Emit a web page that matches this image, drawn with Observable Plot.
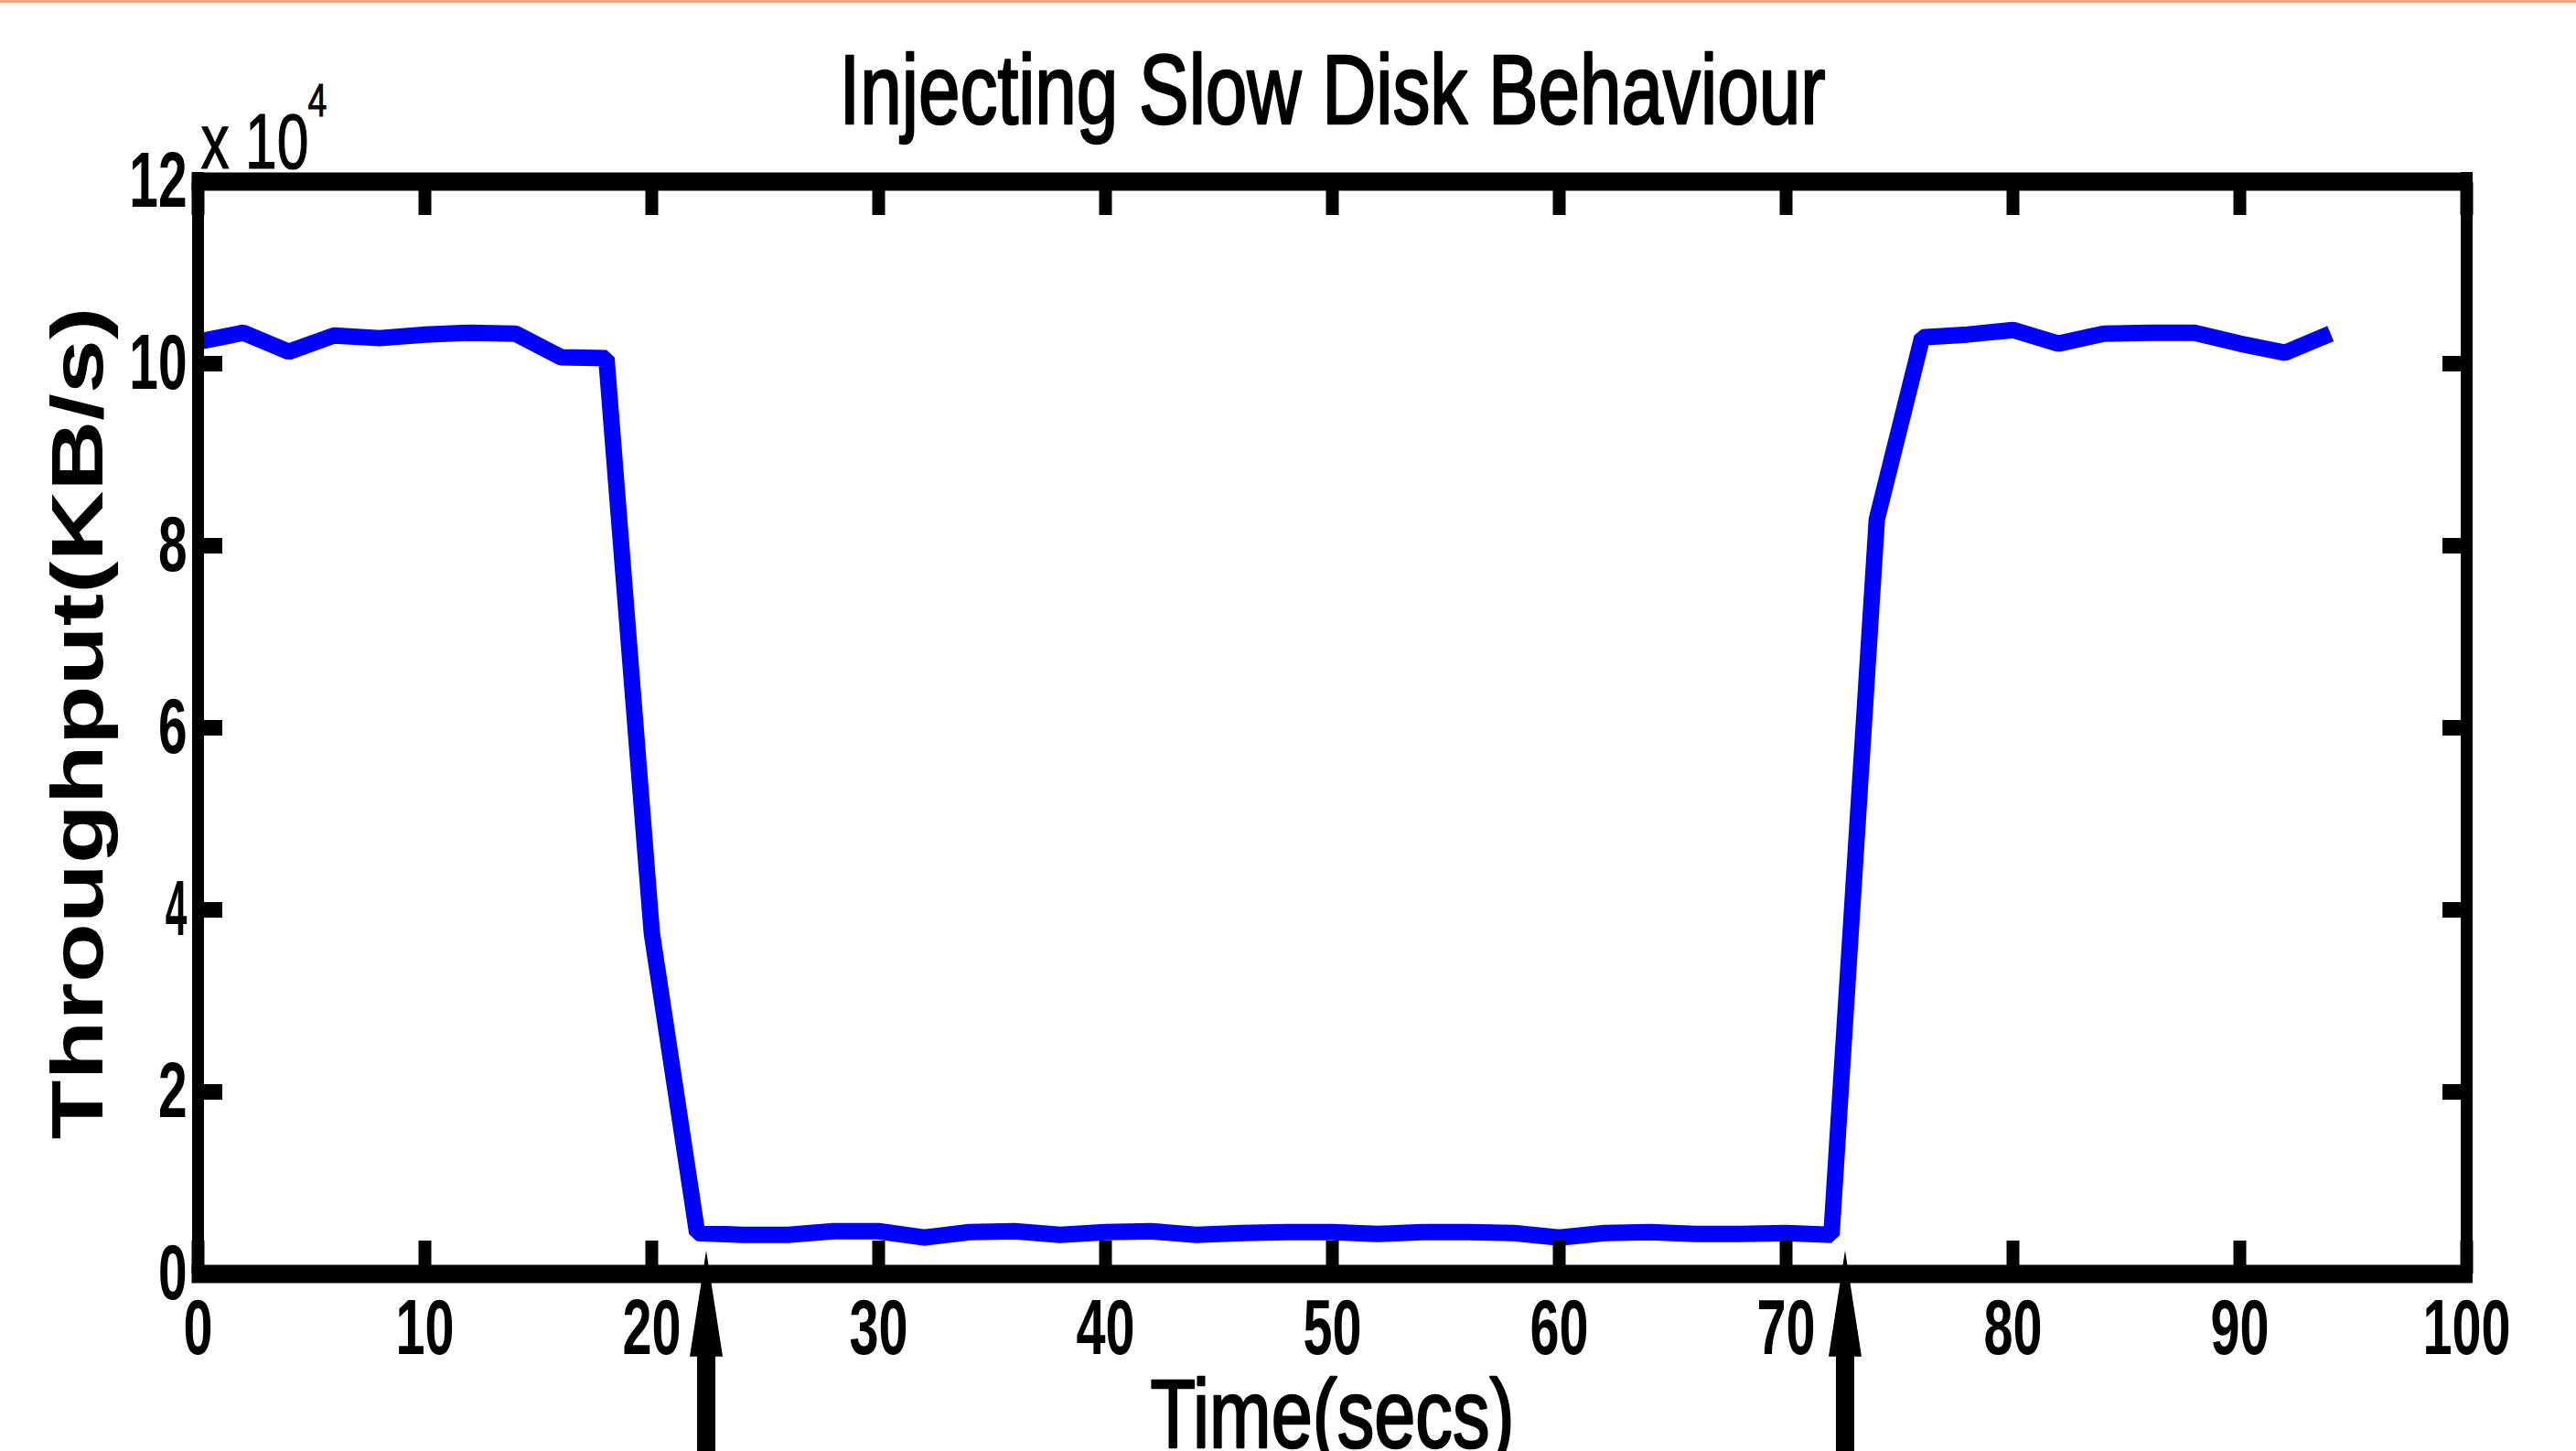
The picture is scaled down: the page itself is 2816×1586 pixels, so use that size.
<!DOCTYPE html>
<html>
<head>
<meta charset="utf-8">
<script src="https://cdn.jsdelivr.net/npm/d3@7"></script>
<script src="https://cdn.jsdelivr.net/npm/@observablehq/plot@0.6"></script>
<style>
  html, body { margin: 0; padding: 0; background: #ffffff; overflow: hidden; }
  #topline { position: absolute; left: 0; top: 0; width: 2816px; height: 3px; background: #f2a27c; }
  svg { display: block; }
</style>
</head>
<body>
<div id="topline"></div>
<script>
// ---- data ----
const times = [0, 2, 4, 6, 8, 10, 12, 14, 16, 18, 20, 22, 24, 26, 28, 30, 32, 34, 36, 38, 40, 42, 44, 46,
               48, 50, 52, 54, 56, 58, 60, 62, 64, 66, 68, 70, 72, 74, 76, 78, 80, 82, 84, 86, 88, 90, 92, 94];
const throughput = [102400, 103400, 101300, 103100, 102800, 103200, 103400, 103300, 100700, 100600,
                    37500, 4500, 4300, 4300, 4700, 4700, 4000, 4600, 4700, 4300, 4600, 4700, 4300, 4500,
                    4600, 4600, 4400, 4600, 4600, 4500, 4000, 4500, 4600, 4400, 4400, 4500, 4300,
                    82900, 102900, 103200, 103700, 102200, 103300, 103400, 103400, 102200, 101200, 103300];
const xTicks = [0, 10, 20, 30, 40, 50, 60, 70, 80, 90, 100];
const yTicks = [0, 20000, 40000, 60000, 80000, 100000, 120000];
const yTickLabels = ["0", "2", "4", "6", "8", "10", "12"];
const arrowTimes = [22.4, 72.6];
const arrowTip = 2600;
const titleText = "Injecting Slow Disk Behaviour";
const xLabelText = "Time(secs)";
const yLabelText = "Throughput(KB/s)";
const exponentBase = "x 10";
const exponentText = "4";

const data = times.map((t, i) => ({t, v: throughput[i]}));

const arrowShape = {
  draw(ctx, l) {
    const head = 116, hw = 18, sw = 10;
    ctx.moveTo(-sw, 0);
    ctx.lineTo(-sw, -(l - head));
    ctx.lineTo(-hw, -(l - head));
    ctx.lineTo(0, -l);
    ctx.lineTo(hw, -(l - head));
    ctx.lineTo(sw, -(l - head));
    ctx.lineTo(sw, 0);
    ctx.closePath();
  }
};

const svg = Plot.plot({
  width: 2816,
  height: 1586,
  marginLeft: 216,
  marginRight: 120,
  marginTop: 198,
  marginBottom: 194,
  x: {domain: [xTicks[0], xTicks[xTicks.length - 1]], axis: null},
  y: {domain: [yTicks[0], yTicks[yTicks.length - 1]], axis: null},
  style: {fontFamily: "'Liberation Sans', Arial, sans-serif", background: "white", color: "black", overflow: "visible"},
  marks: [
    Plot.line(data, {x: "t", y: "v", stroke: "#0000ff", strokeWidth: 18, strokeLinejoin: "miter", strokeLinecap: "butt"}),
    // box
    Plot.ruleY([yTicks[0], yTicks[yTicks.length - 1]], {strokeWidth: 20, insetLeft: -6.5, insetRight: -6.5}),
    Plot.ruleX([xTicks[0], xTicks[xTicks.length - 1]], {strokeWidth: 13, insetTop: -10, insetBottom: -10}),
    // inward ticks
    Plot.axisX(xTicks, {anchor: "bottom", tickSize: -36, strokeWidth: 14, fill: "none", label: null}),
    Plot.axisX(xTicks, {anchor: "top", tickSize: -36, strokeWidth: 14, fill: "none", label: null}),
    Plot.axisY(yTicks, {anchor: "left", tickSize: -27, strokeWidth: 17, fill: "none", label: null}),
    Plot.axisY(yTicks, {anchor: "right", tickSize: -27, strokeWidth: 17, fill: "none", label: null}),
    // tick labels
    Plot.axisX(xTicks, {anchor: "bottom", tickSize: 0, tickPadding: 26, fontSize: 86, fontWeight: "bold", label: null}),
    Plot.axisY(yTicks, {anchor: "left", tickSize: 0, tickPadding: 12, fontSize: 86, fontWeight: "bold", label: null,
                        tickFormat: d => yTickLabels[yTicks.indexOf(d)]}),
    // texts
    Plot.text([titleText], {text: d => d, frameAnchor: "top", lineAnchor: "middle", textAnchor: "middle", dy: -98, fontSize: 108, fill: "black", stroke: "black", strokeWidth: 2.5}),
    Plot.text([xLabelText], {text: d => d, frameAnchor: "bottom", lineAnchor: "middle", textAnchor: "middle", dy: 156, fontSize: 106, fill: "black", stroke: "black", strokeWidth: 2.5}),
    Plot.text([yLabelText], {text: d => d, frameAnchor: "left", lineAnchor: "middle", textAnchor: "middle", dx: -130, dy: -5, rotate: -90, fontSize: 80, fontWeight: "bold", fill: "black"}),
    Plot.text([exponentBase], {text: d => d, frameAnchor: "top-left", lineAnchor: "middle", textAnchor: "start", dx: 3, dy: -42, fontSize: 86, fill: "black", stroke: "black", strokeWidth: 1.2}),
    Plot.text([exponentText], {text: d => d, frameAnchor: "top-left", lineAnchor: "middle", textAnchor: "start", dx: 120, dy: -88, fontSize: 50, fill: "black", stroke: "black", strokeWidth: 1}),
    // arrows
    Plot.vector(arrowTimes, {x: d => d, y: () => arrowTip, length: 222, anchor: "end", shape: arrowShape, fill: "black", stroke: "none"})
  ]
});

document.body.appendChild(svg);

function addScale(t, sx, sy) {
  t.setAttribute("transform", (t.getAttribute("transform") || "") + ` scale(${sx.toFixed(4)},${sy})`);
}
function squeeze(label, sx) {
  svg.querySelectorAll(`g[aria-label="${label}"] text`).forEach(t => addScale(t, sx, 1));
}
function textsWith(str) {
  return [...svg.querySelectorAll("text")].filter(t => t.textContent === str);
}
function fitWidth(str, target) {
  textsWith(str).forEach(t => {
    const w = t.getComputedTextLength();
    if (w > 0) addScale(t, target / w, 1);
  });
}
squeeze("x-axis tick label", 0.67);
squeeze("y-axis tick label", 0.66);
textsWith(exponentText).forEach(t => addScale(t, 0.75, 1));
fitWidth(titleText, 1078);
fitWidth(xLabelText, 398);
fitWidth(yLabelText, 910);
fitWidth(exponentBase, 118);
</script>
</body>
</html>
